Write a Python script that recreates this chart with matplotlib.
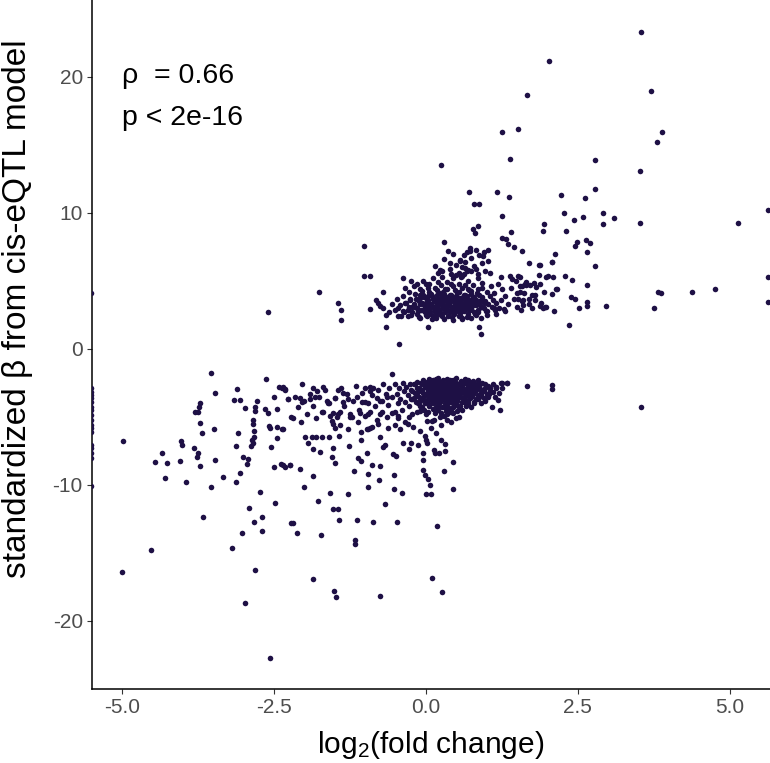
import matplotlib
matplotlib.use("Agg")
import matplotlib.pyplot as plt

plt.rcParams['font.family'] = ['Liberation Sans', 'DejaVu Sans']
plt.rcParams['mathtext.fontset'] = 'custom'
plt.rcParams['mathtext.rm'] = 'Liberation Sans'
plt.rcParams['mathtext.it'] = 'Liberation Sans:italic'

# ---- data (log2 fold change, standardized beta) ----
sparse_high = [(3.54, 23.3), (2.03, 21.2), (3.71, 19.0), (3.88, 15.96), (3.80, 15.2), (2.79, 13.9),
               (3.52, 13.1), (2.79, 11.8), (2.23, 11.3), (2.62, 11.1), (2.27, 10.0), (2.92, 10.0),
               (2.59, 9.7), (2.43, 9.5), (3.10, 9.65), (2.92, 9.2), (3.52, 9.3), (5.14, 9.26),
               (5.63, 10.2), (1.95, 9.2), (1.93, 8.65), (2.31, 8.7), (2.48, 7.9), (2.46, 7.6),
               (2.64, 8.0), (2.70, 7.8), (2.65, 7.1), (2.13, 7.0), (2.07, 6.4), (2.78, 6.1),
               (1.875, 6.2), (2.29, 5.4), (2.40, 5.07), (1.98, 5.3), (2.09, 5.27), (2.65, 4.73),
               (2.14, 4.41), (2.07, 4.04), (2.38, 3.85), (2.45, 3.65), (2.65, 3.43), (2.65, 3.18),
               (2.96, 3.18), (2.52, 3.04), (2.11, 2.82), (1.93, 2.99), (1.97, 3.09), (3.81, 4.19),
               (3.87, 4.14), (4.38, 4.19), (4.75, 4.41), (3.76, 2.99), (5.63, 5.3), (5.63, 3.43),
               (1.67, 18.7), (1.245, 15.98), (1.52, 16.15), (1.38, 13.95), (0.25, 13.5), (0.71, 11.57),
               (1.17, 11.57), (1.36, 11.2), (0.79, 10.64), (0.87, 10.64), (1.25, 9.78), (0.86, 9.07),
               (0.77, 8.82), (0.81, 8.55), (1.40, 8.63), (1.245, 8.18), (1.32, 8.06), (1.35, 7.7),
               (1.45, 7.52), (1.58, 7.2), (1.69, 6.35), (1.86, 6.2), (2.07, 6.36), (-1.02, 7.55),
               (-2.59, 2.74), (-1.75, 4.17), (-1.44, 3.36), (-1.40, 2.87), (-1.40, 2.1), (-0.91, 2.94),
               (-0.82, 3.6), (-0.75, 3.18), (-0.66, 1.64), (-0.44, 0.35), (-0.41, 2.45), (0.03, 1.62),
               (0.87, 1.6), (0.90, 1.1), (0.60, 2.2), (1.28, 2.92), (1.57, 2.87), (1.87, 3.18),
               (1.96, 3.1), (2.35, 1.74), (2.15, 4.41), (1.80, 3.95), (1.875, 4.78), (1.81, 4.58),
               (1.55, 4.6), (1.58, 4.65), (1.63, 4.78), (1.50, 4.1), (1.52, 3.7), (1.58, 3.5),
               (1.23, 5.32), (1.38, 5.37), (1.41, 5.17), (1.51, 5.37), (1.49, 5.0), (2.01, 5.34),
               (1.86, 5.46), (1.55, 5.32), (1.65, 4.9), (1.72, 4.7), (1.78, 4.85), (1.6, 3.2),
               (1.7, 3.7), (1.75, 3.0), (1.62, 4.1)]

upper_mid = [(0.30, 7.89), (0.36, 7.2), (0.45, 7.0), (0.68, 7.1), (0.72, 7.18), (0.82, 7.3),
             (1.02, 7.26), (0.94, 6.86), (0.56, 6.54), (0.57, 6.45), (0.40, 6.3), (0.15, 6.08),
             (0.23, 5.8), (0.27, 5.76), (0.42, 5.5), (0.50, 5.45), (0.64, 5.94), (0.68, 5.72),
             (0.63, 5.5), (0.74, 5.7), (-0.38, 5.24), (-1.02, 5.35), (-0.91, 5.35), (-0.71, 4.19),
             (0.55, 5.6), (0.60, 6.0), (0.65, 6.4), (0.70, 5.8), (0.75, 6.7), (0.80, 6.1),
             (0.85, 5.5), (0.88, 6.9), (0.92, 6.3), (0.97, 5.7), (1.02, 6.5), (0.50, 6.2),
             (0.62, 6.9), (0.73, 7.4), (0.95, 7.1), (0.58, 5.3), (0.82, 5.9), (1.05, 5.6),
             (0.30, 6.6), (0.20, 5.6), (0.40, 5.9)]

upper_core = [(-0.18, 3.1), (-0.15, 2.6), (-0.12, 3.5), (-0.10, 4.0), (-0.08, 2.9), (-0.05, 3.3),
              (-0.03, 3.8), (0.00, 2.5), (0.02, 3.0), (0.03, 3.6), (0.05, 4.2), (0.06, 2.8),
              (0.08, 3.3), (0.10, 3.9), (0.11, 2.4), (0.13, 3.1), (0.14, 3.5), (0.15, 4.5),
              (0.17, 2.7), (0.18, 3.2), (0.20, 3.7), (0.21, 4.1), (0.22, 2.9), (0.24, 3.4),
              (0.25, 2.5), (0.27, 3.9), (0.28, 3.0), (0.30, 3.5), (0.31, 4.4), (0.32, 2.7),
              (0.34, 3.2), (0.35, 3.8), (0.37, 2.4), (0.38, 3.4), (0.40, 4.0), (0.41, 2.9),
              (0.42, 3.6), (0.44, 3.1), (0.45, 4.6), (0.47, 2.6), (0.48, 3.3), (0.50, 3.9),
              (0.51, 2.9), (0.53, 3.5), (0.54, 4.2), (0.56, 3.0), (0.57, 2.5), (0.59, 3.7),
              (0.60, 3.2), (0.62, 4.0), (0.63, 2.8), (0.65, 3.4), (0.67, 3.9), (0.68, 3.1),
              (0.70, 2.6), (0.72, 3.6), (0.74, 4.3), (0.75, 3.0), (0.77, 3.4), (0.79, 2.7),
              (0.80, 3.8), (0.82, 3.2), (0.84, 4.1), (0.86, 2.9), (0.88, 3.5), (0.90, 3.1),
              (-0.16, 3.7), (-0.13, 2.8), (-0.09, 3.3), (-0.06, 4.3), (-0.02, 2.7), (0.01, 3.4),
              (0.04, 3.9), (0.07, 2.6), (0.09, 3.1), (0.12, 3.7), (0.16, 3.0), (0.19, 2.6),
              (0.23, 3.6), (0.26, 3.2), (0.29, 4.2), (0.33, 3.0), (0.36, 3.5), (0.39, 2.7),
              (0.43, 3.8), (0.46, 3.0), (0.49, 3.6), (0.52, 3.2), (0.55, 2.7), (0.58, 3.4),
              (0.61, 3.8), (0.64, 3.0), (0.66, 3.6), (0.69, 4.4), (0.71, 3.3), (0.73, 2.9),
              (0.76, 3.7), (0.78, 3.2), (0.81, 2.6), (0.83, 3.6), (0.87, 3.3), (0.92, 3.8),
              (0.95, 3.0), (0.97, 3.5), (1.00, 2.8), (1.02, 3.3), (1.05, 3.9), (1.08, 3.1),
              (1.10, 3.6), (1.13, 2.9), (1.16, 3.4), (1.20, 3.0), (1.24, 3.6)]

upper_dense = [(-0.30, 2.42), (-0.12, 2.35), (0.02, 2.46), (0.16, 2.31), (0.27, 2.44), (0.43, 2.37),
               (0.55, 2.45), (0.68, 2.33), (0.82, 2.47), (-0.38, 2.78), (-0.22, 2.71), (-0.06, 2.83),
               (0.05, 2.74), (0.14, 2.81), (0.23, 2.69), (0.35, 2.86), (0.46, 2.72), (0.60, 2.79),
               (0.71, 2.84), (0.85, 2.70), (0.99, 2.77), (-0.45, 3.02), (-0.28, 3.11), (-0.14, 2.98),
               (-0.01, 3.08), (0.10, 3.15), (0.20, 2.99), (0.31, 3.07), (0.40, 3.13), (0.52, 3.01),
               (0.63, 3.09), (0.74, 2.97), (0.91, 3.12), (1.12, 3.04), (-0.35, 3.38), (-0.20, 3.30),
               (-0.07, 3.41), (0.06, 3.33), (0.16, 3.42), (0.27, 3.28), (0.37, 3.37), (0.47, 3.44),
               (0.58, 3.31), (0.69, 3.39), (0.80, 3.29), (0.96, 3.36), (-0.26, 3.66), (-0.10, 3.74),
               (0.02, 3.63), (0.14, 3.71), (0.25, 3.66), (0.33, 3.77), (0.45, 3.64), (0.56, 3.73),
               (0.66, 3.67), (0.78, 3.75), (0.93, 3.62), (-0.18, 4.03), (-0.04, 3.95), (0.09, 4.06),
               (0.19, 3.97), (0.30, 4.05), (0.41, 3.94), (0.52, 4.08), (0.64, 3.99), (0.75, 4.04),
               (0.88, 3.96), (-0.10, 4.38), (0.04, 4.45), (0.18, 4.33), (0.34, 4.42), (0.48, 4.36),
               (0.60, 4.47), (0.71, 4.34), (0.85, 4.41), (0.00, 4.78), (0.25, 4.71), (0.41, 4.80),
               (0.65, 4.74), (0.93, 4.83)]

upper_edge = [(-0.60, 2.7), (-0.55, 3.3), (-0.50, 2.9), (-0.48, 3.7), (-0.45, 2.4), (-0.42, 3.2),
              (-0.38, 3.9), (-0.36, 2.7), (-0.33, 3.4), (-0.30, 2.9), (-0.28, 4.2), (-0.26, 3.6),
              (-0.24, 2.5), (-0.22, 3.1), (-0.20, 4.6), (-0.35, 4.5), (-0.25, 5.0), (-0.14, 4.8),
              (-0.04, 5.0), (0.05, 4.8), (0.12, 5.2), (0.20, 4.9), (0.27, 5.3), (0.35, 4.9),
              (0.45, 5.2), (0.55, 4.8), (0.60, 5.4), (0.70, 5.0), (0.78, 4.7), (0.85, 5.2),
              (0.93, 4.5), (1.00, 4.2), (1.07, 4.6), (1.12, 4.1), (1.18, 4.8), (1.25, 4.4),
              (1.30, 3.9), (1.35, 3.3), (1.40, 4.5), (1.45, 3.7), (1.50, 3.1), (1.55, 4.2),
              (1.60, 3.6), (1.65, 4.7), (1.70, 3.3), (1.75, 4.0), (1.80, 3.6), (1.90, 3.4),
              (1.95, 4.2), (1.00, 2.5), (0.90, 2.3), (0.60, 2.3), (0.30, 2.2), (0.10, 2.2),
              (-0.10, 2.3), (0.45, 2.1), (0.75, 2.3), (1.15, 2.6), (1.30, 2.8), (-0.70, 3.0),
              (-0.65, 2.5), (-0.78, 3.4)]

lower_core = [(-0.20, -2.6), (-0.18, -3.2), (-0.16, -3.9), (-0.14, -2.9), (-0.12, -3.5), (-0.10, -4.2),
              (-0.08, -2.5), (-0.07, -3.0), (-0.05, -3.7), (-0.03, -4.5), (-0.02, -2.8), (0.00, -3.3),
              (0.01, -3.9), (0.02, -2.4), (0.04, -3.0), (0.05, -3.5), (0.06, -4.1), (0.08, -2.7),
              (0.09, -3.2), (0.10, -3.8), (0.11, -2.3), (0.12, -4.4), (0.13, -2.9), (0.14, -3.4),
              (0.15, -3.9), (0.16, -2.6), (0.18, -3.1), (0.19, -3.6), (0.20, -4.2), (0.21, -2.4),
              (0.22, -2.9), (0.23, -3.4), (0.24, -3.9), (0.25, -4.7), (0.26, -2.7), (0.27, -3.2),
              (0.28, -3.7), (0.29, -2.3), (0.30, -4.3), (0.31, -3.0), (0.32, -3.5), (0.33, -2.6),
              (0.34, -4.0), (0.35, -3.1), (0.36, -3.6), (0.37, -2.4), (0.38, -4.6), (0.39, -2.9),
              (0.40, -3.4), (0.41, -3.9), (0.42, -2.6), (0.43, -3.2), (0.44, -4.3), (0.45, -2.8),
              (0.46, -3.6), (0.47, -3.1), (0.48, -2.4), (0.49, -4.0), (0.50, -3.3), (0.51, -2.7),
              (0.52, -3.8), (0.53, -3.0), (0.55, -3.5), (0.56, -2.5), (0.57, -4.2), (0.58, -3.1),
              (0.60, -2.8), (0.61, -3.6), (0.62, -3.2), (0.64, -2.5), (0.65, -3.9), (0.66, -3.0),
              (0.68, -3.4), (0.69, -2.7), (0.70, -3.8), (0.72, -3.1), (0.73, -2.4), (0.75, -3.5),
              (0.77, -2.9), (0.78, -3.3), (0.80, -2.6), (0.82, -3.7), (0.83, -3.0), (0.85, -3.4),
              (0.87, -2.7), (0.90, -3.2), (0.92, -2.5), (0.95, -3.6), (0.97, -2.9), (1.00, -3.3),
              (1.03, -2.7), (1.06, -3.1), (1.10, -2.6), (1.13, -3.5), (1.16, -2.9), (1.19, -3.75),
              (1.08, -4.24), (1.16, -2.77), (1.23, -2.52), (1.34, -2.52), (1.20, -3.2), (1.25, -2.9),
              (-0.19, -3.6), (-0.15, -2.4), (-0.11, -3.1), (-0.09, -3.8), (-0.06, -2.6), (-0.04, -3.2),
              (-0.01, -4.0), (0.03, -2.7), (0.07, -3.6), (0.10, -2.9), (0.13, -3.7), (0.17, -3.3),
              (0.20, -2.7), (0.23, -3.0), (0.26, -3.6), (0.30, -2.6), (0.33, -3.3), (0.37, -3.8),
              (0.40, -2.5), (0.44, -3.0), (0.47, -3.8), (0.50, -2.6), (0.54, -3.3), (0.58, -2.6),
              (0.62, -3.9), (0.66, -3.3), (0.70, -2.9), (0.74, -3.2), (0.79, -3.9), (0.84, -2.8),
              (0.88, -3.5), (0.93, -3.0), (0.98, -3.8), (1.02, -3.5), (0.05, -2.2), (0.20, -2.1),
              (0.35, -2.2), (0.50, -2.1), (0.65, -2.2), (0.85, -2.3), (0.60, -4.5), (0.45, -4.7),
              (0.30, -4.9), (0.15, -4.7), (0.00, -4.8), (-0.15, -4.6), (0.75, -4.3), (0.90, -4.0),
              (0.55, -5.0), (0.35, -5.2), (0.10, -5.3), (0.25, -5.6), (0.42, -5.4)]

lower_dense = [(-0.05, -2.28), (0.08, -2.35), (0.17, -2.22), (0.26, -2.40), (0.39, -2.31), (0.45, -2.26),
               (0.58, -2.38), (0.70, -2.29), (0.78, -2.36), (-0.17, -2.55), (-0.03, -2.61), (0.06, -2.50),
               (0.14, -2.58), (0.24, -2.52), (0.35, -2.63), (0.43, -2.49), (0.53, -2.57), (0.62, -2.53),
               (0.71, -2.62), (0.86, -2.51), (0.98, -2.59), (-0.12, -2.86), (0.00, -2.80), (0.11, -2.91),
               (0.19, -2.83), (0.28, -2.88), (0.36, -2.79), (0.49, -2.90), (0.59, -2.82), (0.67, -2.87),
               (0.76, -2.81), (0.89, -2.92), (1.05, -2.84), (-0.22, -3.12), (-0.09, -3.05), (0.03, -3.15),
               (0.15, -3.08), (0.25, -3.14), (0.33, -3.03), (0.42, -3.11), (0.52, -3.06), (0.63, -3.16),
               (0.73, -3.04), (0.81, -3.12), (0.96, -3.07), (1.10, -3.13), (-0.15, -3.41), (-0.02, -3.36),
               (0.09, -3.44), (0.20, -3.38), (0.29, -3.33), (0.39, -3.45), (0.46, -3.37), (0.57, -3.42),
               (0.68, -3.35), (0.76, -3.43), (0.91, -3.39), (1.04, -3.34), (-0.24, -3.66), (-0.07, -3.61),
               (0.04, -3.70), (0.16, -3.63), (0.23, -3.68), (0.34, -3.60), (0.44, -3.71), (0.53, -3.64),
               (0.64, -3.69), (0.72, -3.62), (0.86, -3.67), (-0.13, -3.96), (0.02, -3.91), (0.11, -3.99),
               (0.22, -3.93), (0.32, -4.00), (0.41, -3.90), (0.50, -3.97), (0.59, -3.92), (0.69, -4.01),
               (0.80, -3.94), (-0.07, -4.26), (0.06, -4.21), (0.17, -4.29), (0.27, -4.23), (0.37, -4.30),
               (0.47, -4.20), (0.55, -4.27), (0.66, -4.22), (-0.10, -4.55), (0.04, -4.60), (0.20, -4.52),
               (0.33, -4.58), (0.41, -4.50), (0.52, -4.57)]

lower_left = [(-0.50, -2.6), (-0.48, -3.3), (-0.46, -4.0), (-0.44, -2.9), (-0.42, -3.7), (-0.40, -4.5),
              (-0.38, -2.5), (-0.36, -3.1), (-0.34, -3.9), (-0.32, -2.8), (-0.30, -3.4), (-0.28, -4.2),
              (-0.26, -2.6), (-0.25, -3.0), (-0.23, -3.7), (-0.22, -4.8), (-0.45, -5.1), (-0.35, -5.4),
              (-0.27, -5.0), (-0.50, -4.6), (-0.55, -3.5), (-0.60, -2.9), (-0.62, -4.1), (-0.66, -3.3),
              (-0.70, -2.6), (-0.72, -4.6), (-0.75, -3.8), (-0.78, -3.0), (-0.80, -5.2), (-0.84, -4.2),
              (-0.88, -3.4), (-0.92, -2.8), (-0.95, -4.8), (-1.00, -3.9), (-1.05, -3.2), (-1.10, -4.5),
              (-1.15, -2.7), (-1.20, -3.8), (-1.25, -5.0), (-1.30, -3.3), (-1.35, -4.2), (-1.40, -2.9),
              (-1.45, -4.8), (-1.50, -3.6), (-1.55, -5.3), (-1.60, -4.0), (-1.65, -3.0), (-1.70, -4.6),
              (-1.75, -3.5), (-1.80, -5.1), (-1.85, -4.2), (-1.90, -3.3), (-1.95, -4.8), (-2.00, -3.8),
              (-2.05, -5.4), (-2.10, -4.3), (-2.15, -3.5),
              (-1.86, -2.9), (-1.79, -3.1), (-1.69, -2.8), (-1.45, -3.0), (-1.37, -3.2), (-1.00, -2.9),
              (-0.92, -3.1), (-0.87, -2.85), (-2.07, -3.6), (-2.04, -3.9), (-1.91, -3.7), (-1.83, -3.5),
              (-1.63, -3.8), (-1.61, -4.0), (-1.50, -3.6), (-1.37, -3.9), (-1.28, -3.7), (-1.13, -3.5),
              (-1.05, -3.9), (-0.95, -4.0), (-0.81, -3.6), (-0.72, -3.8), (-0.64, -3.5), (-1.69, -4.6),
              (-1.58, -4.9), (-1.53, -4.7), (-1.46, -5.0), (-1.41, -4.6), (-1.25, -4.8), (-1.22, -5.0),
              (-1.09, -4.7), (-1.00, -4.9), (-0.92, -4.6), (-0.76, -4.8), (-0.64, -5.0), (-0.56, -4.7),
              (-0.46, -4.9), (-1.53, -5.5), (-1.50, -5.8), (-1.41, -5.6), (-1.28, -5.9), (-1.12, -5.4),
              (-0.95, -5.9), (-0.89, -5.7), (-0.79, -5.5), (-0.63, -5.8), (-0.51, -5.6), (-0.43, -5.9),
              (-0.30, -5.5), (-0.21, -5.7), (-0.10, -6.0)]

sparse_low = [(-0.56, -1.86), (-2.03, -2.6), (-2.35, -2.77), (-2.32, -2.96), (-2.26, -3.65), (-2.19, -5.05),
              (-2.35, -5.9), (-1.99, -6.45), (-1.88, -6.45), (-1.80, -6.45), (-1.70, -6.45), (-1.59, -6.45),
              (-1.94, -6.89), (-1.85, -7.33), (-1.74, -7.55), (-1.52, -7.3), (-1.43, -6.4), (-1.26, -7.13),
              (-1.55, -7.92), (-1.50, -8.36), (-1.12, -8.04), (-1.07, -8.21), (-0.97, -7.62), (-0.89, -8.53),
              (-0.76, -8.6), (-1.07, -6.69), (-1.06, -6.08), (-0.97, -5.9), (-0.91, -5.83), (-0.75, -6.49),
              (-0.70, -7.18), (-0.67, -7.06), (-0.54, -7.74), (-0.49, -7.87), (-0.38, -6.93), (-0.27, -7.38),
              (-0.25, -6.93), (-0.13, -7.06), (-0.05, -7.67), (-0.04, -8.16), (-0.05, -8.9), (-0.02, -9.26),
              (-0.02, -6.4), (0.00, -6.69), (0.02, -6.9), (0.13, -7.43), (0.15, -7.67), (0.22, -7.62),
              (0.31, -7.48), (0.30, -8.94), (0.04, -9.58), (0.07, -10.0), (0.01, -10.66), (0.09, -10.66),
              (0.44, -8.28), (0.44, -10.32), (-2.07, -8.85), (-1.85, -9.34), (-2.01, -10.12), (-1.77, -11.15),
              (-1.57, -10.56), (-1.28, -10.64), (-0.95, -10.12), (-0.95, -9.2), (-1.18, -8.97), (-0.77, -9.63),
              (-0.53, -9.29), (-0.53, -10.27), (-0.40, -10.56), (-0.67, -11.4), (-1.52, -11.8), (-1.44, -11.8),
              (-2.35, -8.53), (-2.24, -8.53), (0.02, -5.3), (0.14, -5.2), (0.23, -5.0), (0.35, -4.8),
              (0.42, -4.6), (0.50, -5.1), (0.08, -5.8), (0.17, -6.2), (0.25, -6.7), (0.32, -7.0),
              (1.245, -2.52), (1.34, -2.52), (1.67, -2.75), (2.07, -2.65), (2.07, -2.94), (3.54, -4.26),
              (1.22, -4.49), (1.16, -2.77)]

sparse_far_left = [(-3.54, -1.79), (-2.63, -2.2), (-2.42, -2.79), (-2.37, -2.89), (-2.32, -2.99), (-3.10, -2.92),
                   (-3.47, -3.26), (-3.15, -3.77), (-3.06, -3.77), (-2.78, -3.85), (-2.50, -3.55), (-2.27, -3.65),
                   (-3.72, -3.95), (-3.73, -4.29), (-3.79, -4.61), (-3.75, -4.61), (-2.98, -4.34), (-2.81, -4.29),
                   (-2.81, -4.54), (-2.65, -4.43), (-2.59, -4.71), (-2.44, -4.41), (-2.22, -5.03), (-2.85, -5.22),
                   (-2.85, -5.51), (-3.72, -5.42), (-2.58, -5.66), (-2.57, -5.83), (-2.44, -5.76), (-2.36, -5.9),
                   (-3.09, -6.15), (-2.83, -6.0), (-3.68, -6.18), (-3.49, -5.9), (-2.44, -6.57), (-2.86, -6.69),
                   (-2.83, -6.49), (-2.87, -7.13), (-2.85, -6.93), (-3.12, -7.11), (-2.54, -7.18), (-4.02, -6.76),
                   (-4.01, -7.08), (-3.81, -7.26), (-3.74, -7.62), (-3.77, -7.92), (-4.34, -7.67), (-4.98, -6.79),
                   (-4.45, -8.33), (-4.25, -8.38), (-4.04, -8.21), (-3.71, -8.58), (-3.47, -8.16), (-3.01, -7.92),
                   (-2.93, -8.07), (-2.94, -8.48), (-2.50, -8.68), (-2.38, -8.46), (-2.32, -8.68), (-2.24, -8.55),
                   (-3.05, -9.1), (-3.34, -9.43), (-4.29, -9.46), (-3.94, -9.78), (-3.53, -10.15), (-3.12, -9.78),
                   (-2.73, -10.54), (-2.48, -11.35), (-2.91, -11.71), (-3.66, -12.33), (-2.69, -12.35), (-2.82, -12.7),
                   (-2.22, -12.8), (-3.03, -13.5), (-2.69, -13.4), (-4.52, -14.78), (-3.18, -14.63)]

sparse_bottom = [(-4.99, -16.4), (-2.81, -16.25), (-2.98, -18.7), (-2.57, -22.75), (-2.19, -12.8), (-2.12, -13.55),
                 (-1.72, -13.7), (-1.85, -16.9), (-1.51, -17.8), (-1.47, -18.2), (-1.16, -14.07), (-1.16, -14.36),
                 (-1.43, -12.6), (-1.13, -12.6), (-0.87, -12.7), (-0.47, -12.7), (-0.76, -18.16), (0.19, -13.0),
                 (0.10, -16.84), (0.26, -17.9)]

left_edge_x = -5.5
left_edge_y = [4.14, -2.89, -3.14, -3.38, -3.62, -3.87, -4.24, -4.49, -4.85, -5.22, -5.59,
               -5.83, -6.08, -7.06, -7.3, -7.67, -8.04, -10.1]

x_ticks = [-5.0, -2.5, 0.0, 2.5, 5.0]
x_tick_labels = ['-5.0', '-2.5', '0.0', '2.5', '5.0']
y_ticks = [-20, -10, 0, 10, 20]
y_tick_labels = ['-20', '-10', '0', '10', '20']
annot_lines = ['ρ  = 0.66', 'p < 2e-16']

# ---- plot ----
W, H = 770, 763
fig = plt.figure(figsize=(W / 100, H / 100), dpi=100)
ax = fig.add_axes([92 / W, 1 - 689 / H, (W - 92) / W, 689 / H])

groups = [sparse_high, upper_mid, upper_core, upper_dense, upper_edge, lower_core,
          lower_dense, lower_left, sparse_low, sparse_far_left, sparse_bottom]
xs, ys = [], []
for g in groups:
    for px, py in g:
        xs.append(px)
        ys.append(py)
for yv in left_edge_y:
    xs.append(left_edge_x)
    ys.append(yv)

dot = '#1E1045'
ax.scatter(xs, ys, s=16, color=dot, linewidths=0, clip_on=True, zorder=3)

ax.set_xlim(-5.49, 5.66)
ax.set_ylim(-25.0, 25.66)
ax.set_xticks(x_ticks)
ax.set_xticklabels(x_tick_labels)
ax.set_yticks(y_ticks)
ax.set_yticklabels(y_tick_labels)

for s in ['top', 'right']:
    ax.spines[s].set_visible(False)
for s in ['left', 'bottom']:
    ax.spines[s].set_linewidth(1.1)
    ax.spines[s].set_color('black')
ax.tick_params(direction='out', length=3.6, width=0.8, color='#333333',
               labelcolor='#4D4D4D', labelsize=15, pad=3)

ax.text(-5.0, 19.54, annot_lines[0], fontsize=20.5, color='black', ha='left', va='baseline')
ax.text(-5.0, 16.47, annot_lines[1], fontsize=20.5, color='black', ha='left', va='baseline')

fig.text(431 / W, 1 - 745 / H, r'log$_2$(fold change)', fontsize=21.5,
         ha='center', va='center', color='black')
fig.text(18 / W, 1 - 309 / H, 'standardized β from cis-eQTL model', fontsize=24,
         rotation=90, ha='center', va='center', color='black')

fig.savefig('out.png', dpi=100)
